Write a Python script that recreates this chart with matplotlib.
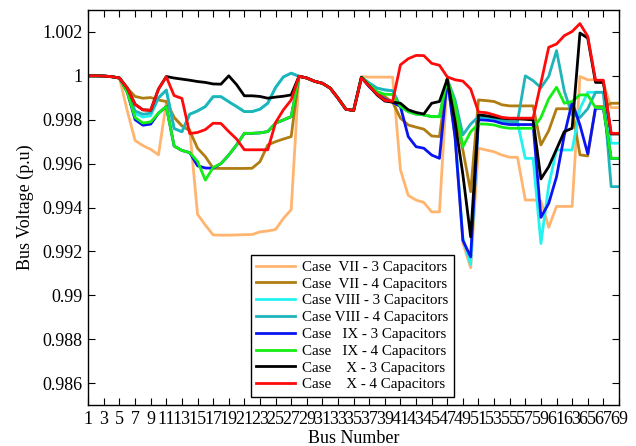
import matplotlib
matplotlib.use("Agg")
import matplotlib.pyplot as plt

plt.rcParams['font.family'] = ['Liberation Serif', 'DejaVu Serif']

bus = list(range(1, 70))

vii_3 = [1.0, 1.0, 0.99999, 0.99996, 0.9999,
         0.9984, 0.99705, 0.99682, 0.99665, 0.9964,
         0.9988, 0.99812, 0.99772, 0.99755, 0.99369,
         0.9932, 0.99275, 0.99274, 0.99274, 0.99275,
         0.99276, 0.99277, 0.99289, 0.99293, 0.993,
         0.9935, 0.9939,
         0.99998, 0.9999, 0.99975, 0.99966, 0.99944, 0.99898, 0.99848, 0.99842,
         0.99997, 0.99994, 0.99994, 0.99994, 0.99994,
         0.99572, 0.99455, 0.99434, 0.99423, 0.9938,
         0.9938, 0.99985, 0.9972, 0.9924, 0.99125,
         0.9967, 0.99662, 0.99654, 0.99639, 0.99629,
         0.99629, 0.99434, 0.99434, 0.9943, 0.9931,
         0.99405, 0.99405, 0.99405, 0.99997, 0.99982,
         0.99982, 0.99967, 0.99855, 0.99855]

vii_4 = [1.0, 1.0, 0.99999, 0.99996, 0.9999,
         0.99944, 0.99906, 0.99898, 0.99901, 0.9989,
         0.99883, 0.9981, 0.99772, 0.9975, 0.9967,
         0.99632, 0.99579, 0.99578, 0.99578, 0.99578,
         0.99578, 0.99579, 0.99609, 0.99685, 0.997,
         0.99712, 0.99723,
         0.99998, 0.9999, 0.99975, 0.99966, 0.99944, 0.99898, 0.99848, 0.99842,
         0.99993, 0.99958, 0.99925, 0.99905, 0.9988,
         0.99807, 0.99776, 0.99766, 0.99757, 0.99726,
         0.99723, 0.99985, 0.9983, 0.99662, 0.99472,
         0.9989, 0.99887, 0.99883, 0.99868, 0.99863,
         0.99863, 0.99863, 0.99863, 0.99685, 0.9975,
         0.9985, 0.9985, 0.9985, 0.9964, 0.99635,
         0.9986, 0.9986, 0.99875, 0.99875]

viii_3 = [1.0, 1.0, 0.99999, 0.99996, 0.9999,
          0.9993, 0.99828, 0.99812, 0.99818, 0.999,
          0.99935, 0.9976, 0.99745, 0.99825, 0.9984,
          0.9986, 0.99905, 0.99905, 0.99882, 0.9986,
          0.99837, 0.99837, 0.99848, 0.99875, 0.99947,
          0.99995, 1.00012,
          0.99998, 0.9999, 0.99975, 0.99966, 0.99944, 0.99898, 0.99848, 0.99842,
          0.99993, 0.99967, 0.99944, 0.99936, 0.99932,
          0.9986, 0.99837, 0.99826, 0.99822, 0.99814,
          0.99814, 0.99985, 0.9973, 0.9926, 0.9914,
          0.9981, 0.99808, 0.99804, 0.99793, 0.99787,
          0.99787, 0.99624, 0.99624, 0.99236, 0.995,
          0.99662, 0.99662, 0.99662, 0.9985, 0.99925,
          0.99925, 0.99925, 0.99693, 0.99693]

viii_4 = [1.0, 1.0, 0.99999, 0.99996, 0.9999,
          0.9993, 0.9984, 0.99825, 0.9983, 0.999,
          0.99935, 0.9976, 0.99745, 0.99825, 0.9984,
          0.9986, 0.99905, 0.99905, 0.99882, 0.9986,
          0.99837, 0.99837, 0.99848, 0.99875, 0.99947,
          0.99995, 1.00012,
          0.99998, 0.9999, 0.99975, 0.99966, 0.99944, 0.99898, 0.99848, 0.99842,
          0.99993, 0.99967, 0.99944, 0.99936, 0.99932,
          0.9986, 0.99837, 0.99826, 0.99822, 0.99814,
          0.99814, 0.99985, 0.9989, 0.99731, 0.9978,
          0.99814, 0.99812, 0.99808, 0.99797, 0.99791,
          0.99791, 1.0, 0.99978, 0.99946, 0.99997,
          1.00115, 0.9993, 0.99822, 0.9981, 0.9985,
          0.99925, 0.99925, 0.99495, 0.99495]

ix_3 = [1.0, 1.0, 0.99999, 0.99996, 0.9999,
        0.99925, 0.998, 0.99775, 0.9978, 0.9983,
        0.9986, 0.9968, 0.9966, 0.9965, 0.9959,
        0.9958, 0.99579, 0.996, 0.99639, 0.99685,
        0.99738, 0.99738, 0.9974, 0.99746, 0.99784,
        0.99799, 0.99814,
        0.99998, 0.9999, 0.99975, 0.99966, 0.99944, 0.99898, 0.99848, 0.99842,
        0.99993, 0.9995, 0.99918, 0.99893, 0.9988,
        0.9986, 0.99723, 0.99677, 0.9967, 0.99639,
        0.99624, 0.99985, 0.9972, 0.9925, 0.99175,
        0.998, 0.99798, 0.99794, 0.99783, 0.99778,
        0.99778, 0.99778, 0.99778, 0.99355, 0.99419,
        0.9954, 0.9973, 0.9988, 0.99776, 0.99645,
        0.99852, 0.99852, 0.99624, 0.99624]

ix_4 = [1.0, 1.0, 0.99999, 0.99996, 0.9999,
        0.99925, 0.9981, 0.99785, 0.9979, 0.9983,
        0.9986, 0.9968, 0.9966, 0.9965, 0.9961,
        0.99525, 0.99582, 0.996, 0.99639, 0.99685,
        0.99738, 0.99738, 0.9974, 0.99746, 0.99784,
        0.99799, 0.99814,
        0.99998, 0.9999, 0.99975, 0.99966, 0.99944, 0.99898, 0.99848, 0.99842,
        0.99993, 0.9996, 0.99928, 0.99916, 0.99915,
        0.9986, 0.99837, 0.99826, 0.99822, 0.99814,
        0.99814, 0.99985, 0.9987, 0.99677, 0.99745,
        0.99781, 0.9978, 0.99776, 0.99766, 0.99761,
        0.99761, 0.99761, 0.99761, 0.9981, 0.99895,
        0.99948, 0.99875, 0.99883, 0.99913, 0.99913,
        0.99855, 0.99855, 0.99624, 0.99624]

x_3 = [1.0, 1.0, 0.99999, 0.99996, 0.9999,
       0.99944, 0.9987, 0.99845, 0.99843, 0.9994,
       0.99997, 0.9999, 0.99985, 0.9998, 0.99974,
       0.9997, 0.99963, 0.99962, 1.0, 0.9996,
       0.99909, 0.99909, 0.99906, 0.99898, 0.99903,
       0.99907, 0.99913,
       0.99998, 0.9999, 0.99975, 0.99966, 0.99944, 0.99898, 0.99848, 0.99842,
       0.99993, 0.99954, 0.99913, 0.99885, 0.9988,
       0.99875, 0.99845, 0.99833, 0.99826, 0.99875,
       0.99883, 0.99985, 0.9979, 0.9955, 0.99266,
       0.99822, 0.99818, 0.99812, 0.99807, 0.99804,
       0.99804, 0.99802, 0.99799, 0.9953, 0.99586,
       0.99666, 0.99746, 0.99761, 1.00195, 1.00172,
       0.9997, 0.9997, 0.99735, 0.99735]

x_4 = [1.0, 1.0, 0.99999, 0.99996, 0.9999,
       0.99944, 0.9987, 0.99845, 0.99843, 0.9994,
       0.99995, 0.9991, 0.99897, 0.99737, 0.99742,
       0.99755, 0.99784, 0.99783, 0.99746, 0.99712,
       0.99663, 0.99663, 0.99663, 0.99663, 0.99787,
       0.99845, 0.9989,
       0.99998, 0.9999, 0.99975, 0.99966, 0.99944, 0.99898, 0.99848, 0.99842,
       0.9999, 0.99953, 0.99917, 0.99888, 0.99884,
       1.0005, 1.00078, 1.00093, 1.00092, 1.00057,
       1.00048, 0.99995, 0.99982, 0.99976, 0.9994,
       0.99835, 0.99832, 0.99822, 0.99811, 0.99807,
       0.99807, 0.99807, 0.99807, 0.99967, 1.0013,
       1.00145, 1.00183, 1.00202, 1.00238, 1.0018,
       0.9998, 0.9998, 0.99738, 0.99738]

labels = ["Case  VII - 3 Capacitors",
          "Case  VII - 4 Capacitors",
          "Case VIII - 3 Capacitors",
          "Case VIII - 4 Capacitors",
          "Case   IX - 3 Capacitors",
          "Case   IX - 4 Capacitors",
          "Case    X - 3 Capacitors",
          "Case    X - 4 Capacitors"]
series = [vii_3, vii_4, viii_3, viii_4, ix_3, ix_4, x_3, x_4]
colors = ["#FFB570", "#B07D12", "#22F2F2", "#1EB4B9", "#0A14F0", "#14EE14", "#000000", "#FF0A0A"]

x_ticks = list(range(1, 70, 2))
y_ticks = [0.986, 0.988, 0.99, 0.992, 0.994, 0.996, 0.998, 1.0, 1.002]
y_ticklabels = ["0.986", "0.988", "0.99", "0.992", "0.994", "0.996", "0.998", "1", "1.002"]

fig = plt.figure(figsize=(6.36, 4.46), dpi=100)
ax = fig.add_axes([0.1388, 0.0919, 0.8344, 0.8857])

for vals, lab, col in zip(series, labels, colors):
    ax.plot(bus, vals, color=col, lw=2.0, label=lab)

ax.set_xlim(1, 69)
ax.set_ylim(0.985, 1.003)
ax.set_xticks(x_ticks)
ax.set_xticklabels([str(t) for t in x_ticks])
ax.set_yticks(y_ticks)
ax.set_yticklabels(y_ticklabels)
ax.tick_params(direction='in', top=True, right=True, length=5, width=0.8,
               labelsize=13, pad=4)
for sp in ax.spines.values():
    sp.set_linewidth(1.0)

ax.set_xlabel("Bus Number", fontsize=13, labelpad=2)
ax.set_ylabel("Bus Voltage (p.u)", fontsize=13, labelpad=6)

leg = ax.legend(loc='lower left', bbox_to_anchor=(0.306, 0.021), borderaxespad=0,
                fontsize=10.8, handlelength=2.6, handletextpad=0.5,
                labelspacing=0.22, borderpad=0.35, fancybox=False, framealpha=1)
leg.get_frame().set_edgecolor('black')
leg.get_frame().set_linewidth(1.0)

fig.savefig("out.png", dpi=100)
